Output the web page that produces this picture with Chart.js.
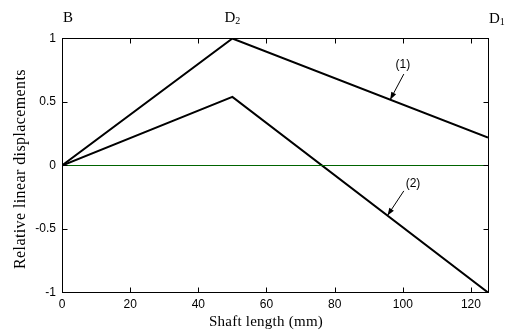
<!DOCTYPE html>
<html>
<head>
<meta charset="utf-8">
<script src="https://cdn.jsdelivr.net/npm/chart.js@4/dist/chart.umd.min.js"></script>
<style>
    html, body { margin: 0; padding: 0; background: #fff; }
    #wrap { width: 519px; height: 335px; }
</style>
</head>
<body>
<div id="wrap"><canvas id="chart" width="519" height="335"></canvas></div>
<script>
// data
const shaftLength = [0, 50, 125];
const displacement1 = [0, 1, 0.22];
const displacement2 = [0, 0.54, -1];
const zeroX = [0, 125];
const zeroY = [0, 0];
const xTickValues = [0, 20, 40, 60, 80, 100, 120];
const yTickValues = [-1, -0.5, 0, 0.5, 1];
const stations = ['B', 'D', 'D'];
const stationSubs = ['', '2', '1'];
const stationAt = [0, 50, 125];
const curveNames = ['(1)', '(2)'];
const xTitle = 'Shaft length (mm)';
const yTitle = 'Relative linear displacements';

// where the curve labels and their arrows sit (data units)
const labelSpots = [
    { tx: 100, ty: 0.79, fx: 100.3, fy: 0.72, hx: 96.3 },
    { tx: 103, ty: -0.14, fx: 100.3, fy: -0.2, hx: 95.5 }
];

const toPoints = (xs, ys) => xs.map((x, i) => ({ x, y: ys[i] }));
const lineAt = (xs, ys, x) => {
    for (let i = 1; i < xs.length; i++) {
        if (x <= xs[i]) {
            const t = (x - xs[i - 1]) / (xs[i] - xs[i - 1]);
            return ys[i - 1] + t * (ys[i] - ys[i - 1]);
        }
    }
    return ys[ys.length - 1];
};

const framePlugin = {
    id: 'frame',
    afterDraw(chart) {
        const ctx = chart.ctx;
        const a = chart.chartArea;
        const xs = chart.scales.x;
        const ys = chart.scales.y;
        ctx.save();
        ctx.strokeStyle = '#000';
        ctx.lineWidth = 1;
        const L = Math.floor(a.left) + 0.5, R = Math.floor(a.right) + 0.5;
        const T = Math.floor(a.top) + 0.5, B = Math.floor(a.bottom) + 0.5;
        ctx.strokeRect(L, T, R - L, B - T);
        // inward ticks on all sides
        ctx.beginPath();
        xs.ticks.forEach(t => {
            const px = Math.round(xs.getPixelForValue(t.value)) + 0.5;
            ctx.moveTo(px, B); ctx.lineTo(px, B - 5);
            ctx.moveTo(px, T); ctx.lineTo(px, T + 5);
        });
        ys.ticks.forEach(t => {
            const py = Math.floor(ys.getPixelForValue(t.value)) + 0.5;
            ctx.moveTo(L, py); ctx.lineTo(L + 5, py);
            ctx.moveTo(R, py); ctx.lineTo(R - 5, py);
        });
        ctx.stroke();

        // axis titles
        ctx.fillStyle = '#000';
        ctx.textAlign = 'center';
        ctx.textBaseline = 'middle';
        ctx.font = '15px "Liberation Serif"';
        ctx.letterSpacing = '0.25px';
        ctx.fillText(xTitle, 266, 322);
        ctx.save();
        ctx.translate(21, 169);
        ctx.rotate(-Math.PI / 2);
        ctx.font = '16px "Liberation Serif"';
        ctx.letterSpacing = '0.4px';
        ctx.fillText(yTitle, 0, 0);
        ctx.restore();
        ctx.letterSpacing = '0px';

        // station names above the frame
        stations.forEach((name, i) => {
            const px = xs.getPixelForValue(stationAt[i]);
            ctx.font = '15px "Liberation Serif"';
            const w = ctx.measureText(name).width;
            ctx.font = '10px "Liberation Serif"';
            const ws = ctx.measureText(stationSubs[i]).width;
            let left = px + 1;
            if (i === 1) left = px - (w + ws) / 2;
            const base = i === 2 ? 23 : 22;
            ctx.textBaseline = 'alphabetic';
            ctx.textAlign = 'left';
            ctx.font = '15px "Liberation Serif"';
            ctx.fillText(name, left, base);
            ctx.font = '10px "Liberation Serif"';
            ctx.fillText(stationSubs[i], left + w, base + 2);
        });

        // curve labels with arrows
        const curves = [[shaftLength, displacement1], [shaftLength, displacement2]];
        curveNames.forEach((name, i) => {
            const s = labelSpots[i];
            ctx.font = '12px "Liberation Sans"';
            ctx.textAlign = 'center';
            ctx.textBaseline = 'middle';
            ctx.fillText(name, xs.getPixelForValue(s.tx), ys.getPixelForValue(s.ty));
            const x0 = xs.getPixelForValue(s.fx), y0 = ys.getPixelForValue(s.fy);
            const x1 = xs.getPixelForValue(s.hx);
            const y1 = ys.getPixelForValue(lineAt(curves[i][0], curves[i][1], s.hx));
            const ang = Math.atan2(y1 - y0, x1 - x0);
            ctx.beginPath();
            ctx.moveTo(x0, y0);
            ctx.lineTo(x1, y1);
            ctx.lineWidth = 1;
            ctx.stroke();
            ctx.beginPath();
            ctx.moveTo(x1, y1);
            ctx.lineTo(x1 - 8 * Math.cos(ang - 0.35), y1 - 8 * Math.sin(ang - 0.35));
            ctx.lineTo(x1 - 8 * Math.cos(ang + 0.35), y1 - 8 * Math.sin(ang + 0.35));
            ctx.closePath();
            ctx.fill();
        });
        ctx.restore();
    }
};

new Chart(document.getElementById('chart').getContext('2d'), {
    type: 'line',
    data: {
        datasets: [
            {
                data: toPoints(zeroX, zeroY),
                borderColor: '#006400',
                borderWidth: 1,
                pointRadius: 0
            },
            {
                data: toPoints(shaftLength, displacement1),
                borderColor: '#000',
                borderWidth: 2,
                pointRadius: 0
            },
            {
                data: toPoints(shaftLength, displacement2),
                borderColor: '#000',
                borderWidth: 2,
                pointRadius: 0
            }
        ]
    },
    options: {
        responsive: false,
        animation: false,
        events: [],
        layout: { padding: { left: 0, top: 38.5, right: 31, bottom: 0 } },
        plugins: {
            legend: { display: false },
            tooltip: { enabled: false }
        },
        scales: {
            x: {
                type: 'linear',
                min: 0,
                max: 125,
                grid: { display: false, drawTicks: false },
                border: { display: false },
                afterBuildTicks(scale) {
                    scale.ticks = xTickValues.map(v => ({ value: v }));
                },
                ticks: {
                    color: '#000',
                    padding: 5,
                    maxRotation: 0,
                    autoSkip: false,
                    font: { family: '"Liberation Sans"', size: 12 }
                },
                afterFit(scale) { scale.height = 42.5; }
            },
            y: {
                type: 'linear',
                min: -1,
                max: 1,
                grid: { display: false, drawTicks: false },
                border: { display: false },
                afterBuildTicks(scale) {
                    scale.ticks = yTickValues.map(v => ({ value: v }));
                },
                ticks: {
                    color: '#000',
                    padding: 6,
                    autoSkip: false,
                    callback: v => String(v),
                    font: { family: '"Liberation Sans"', size: 12 }
                },
                afterFit(scale) { scale.width = 62; }
            }
        }
    },
    plugins: [framePlugin]
});
</script>
</body>
</html>
